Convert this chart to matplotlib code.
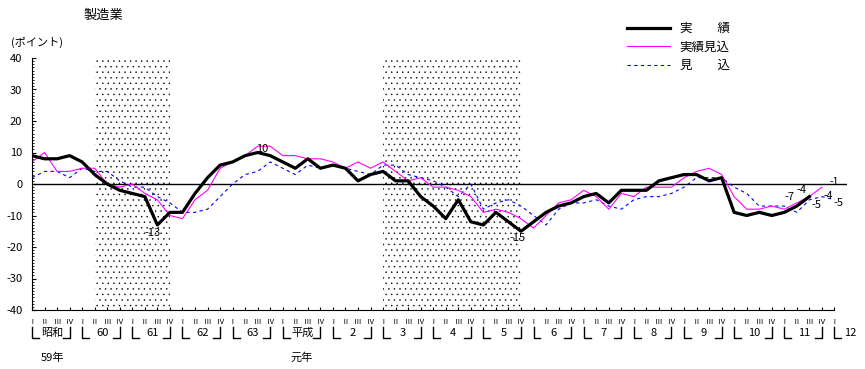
import numpy as np
import matplotlib
matplotlib.use('Agg')
import matplotlib.pyplot as plt

plt.rcParams['font.family'] = ['Noto Sans CJK JP', 'DejaVu Sans']
plt.rcParams['axes.unicode_minus'] = False
plt.rcParams['hatch.linewidth'] = 0.3

# quarterly BSI, 昭和59 I .. 平成12 I
actual = [9, 8, 8, 9, 7, 3, 0, -2, -3, -4, -13, -9, -9, -3, 2, 6, 7, 9, 10, 9,
          7, 5, 8, 5, 6, 5, 1, 3, 4, 1, 1, -4, -7, -11, -5, -12, -13, -9, -12, -15,
          -12, -9, -7, -6, -4, -3, -6, -2, -2, -2, 1, 2, 3, 3, 1, 2, -9, -10, -9, -10,
          -9, -7, -4]
expected_actual = [7, 10, 4, 4, 5, 5, 0, -1, 0, -3, -5, -10, -11, -5, -2, 5, 7, 9, 12, 12,
                   9, 9, 8, 8, 7, 5, 7, 5, 7, 4, 1, 2, -1, -1, -2, -4, -9, -8, -9, -11,
                   -14, -10, -6, -5, -2, -4, -8, -3, -4, -1, -1, -1, 2, 4, 5, 3, -4, -8, -8, -7,
                   -8, -6, -4, -1]
forecast = [2, 4, 4, 2, 5, 4, 4, 1, -1, -1, -4, -6, -9, -9, -8, -4, 0, 3, 4, 7,
            5, 3, 6, 5, 6, 5, 4, 3, 6, 6, 3, 2, 1, -1, -4, 0, -8, -6, -5, -7,
            -10, -13, -8, -6, -6, -5, -7, -8, -5, -4, -4, -3, -1, 2, 2, 2, -1, -3, -7, -7,
            -7, -9, -5, -4, -5]

quarter_names = ['Ⅰ', 'Ⅱ', 'Ⅲ', 'Ⅳ']
year_names = ['昭和', '60', '61', '62', '63', '平成', '2', '3', '4', '5', '6', '7', '8', '9', '10', '11']
recessions = [(5, 11), (28, 39)]

fig = plt.figure(figsize=(8.65, 3.69), dpi=100)
ax = fig.add_axes([32/865, 1 - 310/369, 815/865, 252/369])

for a, b in recessions:
    ax.axvspan(a, b, facecolor='none', edgecolor='black', hatch='...', linewidth=0)

ax.axhline(0, color='black', lw=1)

ax.plot(np.arange(len(forecast)), forecast, color='#0000ff', lw=0.8, dashes=(3, 3), label='見　　込')
ax.plot(np.arange(len(expected_actual)), expected_actual, color='#ff00ff', lw=0.8, label='実績見込')
ax.plot(np.arange(len(actual)), actual, color='black', lw=2.3, label='実　　績')

ax.set_xlim(0, 65)
ax.set_ylim(-40, 40)
ax.spines['top'].set_visible(False)
ax.spines['right'].set_visible(False)
ax.spines['bottom'].set_bounds(0, 64)

ax.set_yticks(np.arange(-40, 41, 10))
ax.set_yticks(np.arange(-40, 41, 1), minor=True)
ax.tick_params(axis='y', which='major', direction='in', length=3, labelsize=8, pad=7)
ax.tick_params(axis='y', which='minor', direction='in', length=1.5)

nq = 65
ax.set_xticks(np.arange(nq))
ax.set_xticklabels([quarter_names[i % 4] for i in range(nq)], fontsize=5.5)
ax.tick_params(axis='x', direction='in', length=2.5, pad=6)

# year brackets
tr = ax.get_xaxis_transform()
y_top, y_bot = -17/252, -28/252
for k, name in enumerate(year_names):
    x0 = 4 * k
    x1 = 4 * k + 3
    ax.plot([x0, x0, x0 + 0.55], [y_top, y_bot, y_bot], color='black', lw=1, transform=tr, clip_on=False)
    ax.plot([x1 - 0.55, x1, x1], [y_bot, y_bot, y_top], color='black', lw=1, transform=tr, clip_on=False)
    ax.text(x0 + 1.6, -23/252, name, transform=tr, ha='center', va='center', fontsize=8)
ax.plot([64, 64, 64.55], [y_top, y_bot, y_bot], color='black', lw=1, transform=tr, clip_on=False)
ax.text(65.3, -23/252, '12', transform=tr, ha='center', va='center', fontsize=8)
ax.text(1.6, -48/252, '59年', transform=tr, ha='center', va='center', fontsize=8)
ax.text(21.5, -48/252, '元年', transform=tr, ha='center', va='center', fontsize=8)

# value labels
def lab(series, i, dx, dy, size=8):
    ax.annotate(str(series[i]), (i, series[i]), xytext=(dx, dy), textcoords='offset pixels',
                ha='center', va='center', fontsize=size)

lab(actual, 10, -5, -8)
lab(actual, 18, 5, 4)
lab(actual, 39, -3, -7)
lab(actual, 61, -7, 9)
lab(actual, 62, -8, 7)
lab(forecast, 62, 7, -5)
lab(forecast, 63, 6, 1, 7.5)
lab(expected_actual, 63, 12, 5, 7.5)
lab(forecast, 64, 4, -3)

handles, labels = ax.get_legend_handles_labels()
order = [2, 1, 0]
ax.legend([handles[i] for i in order], [labels[i] for i in order],
          loc='upper left', bbox_to_anchor=(627/865, 1 - 22/369), bbox_transform=fig.transFigure,
          frameon=False, fontsize=9, handlelength=3.4, labelspacing=0.45, handletextpad=0.8,
          borderpad=0, borderaxespad=0)

fig.text(103/865, 1 - 15/369, '製造業', ha='center', va='center', fontsize=9.5)
fig.text(37/865, 1 - 42/369, '(ポイント)', ha='center', va='center', fontsize=8)

fig.savefig('out.png', dpi=100)
